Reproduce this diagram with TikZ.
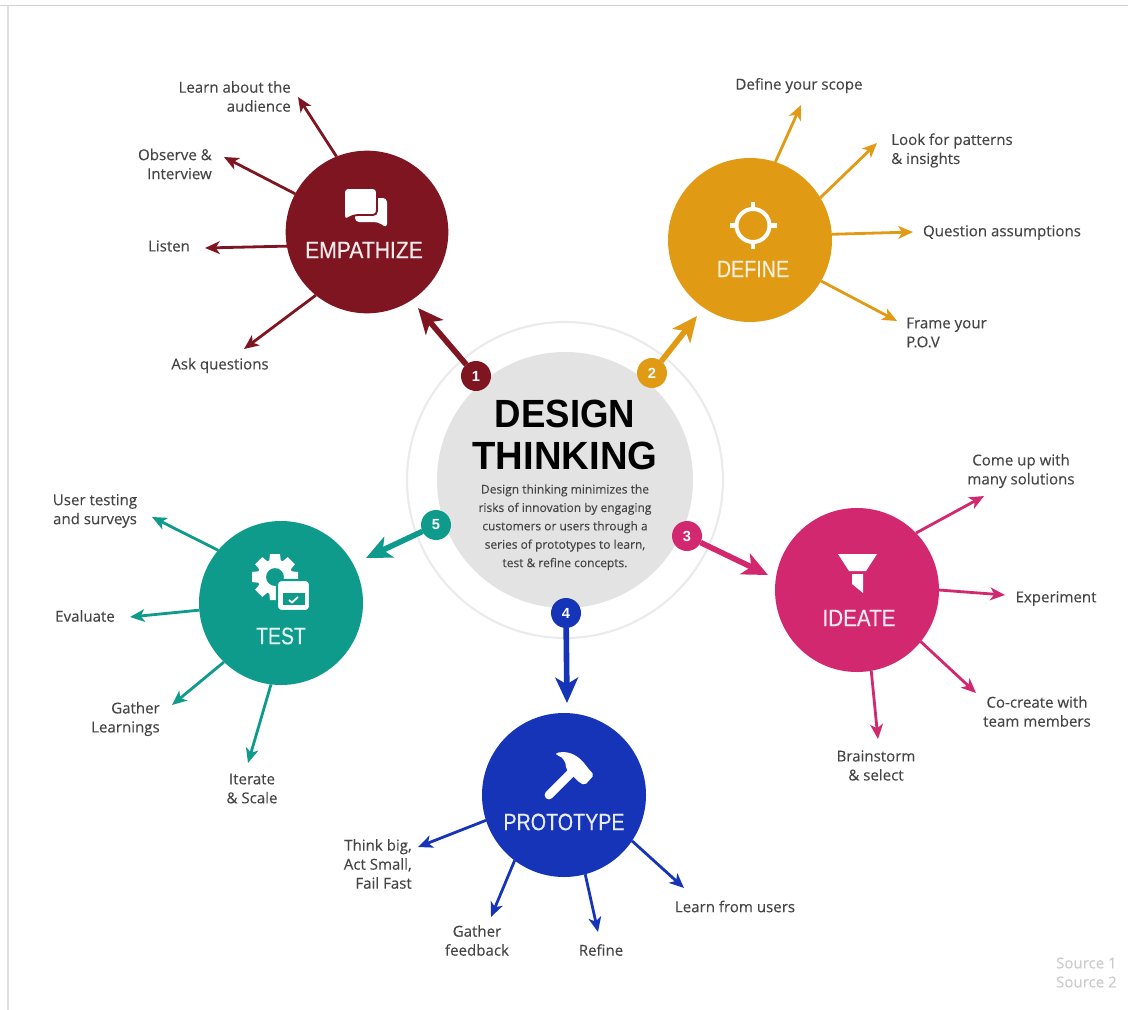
\documentclass[tikz,border=0pt]{standalone}
\usepackage{fontspec}
\usepackage{graphicx}
\usetikzlibrary{arrows.meta}
\setmainfont[FakeBold=0.12]{Open Sans}
\newfontfamily\rbf{Liberation Sans}
\newfontfamily\rbm[FakeBold=0.5]{Liberation Sans}
\definecolor{cemp}{HTML}{7F1520}
\definecolor{cdef}{HTML}{E09A14}
\definecolor{cide}{HTML}{D2286F}
\definecolor{cpro}{HTML}{1534B8}
\definecolor{ctes}{HTML}{0E9B8B}
\definecolor{ctxt}{HTML}{454545}
\newcommand{\ctitle}[2]{\scalebox{#1}[1]{#2}}
\tikzset{
  x=0.75pt,y=-0.75pt,
  hub/.style={circle,minimum size=123pt,inner sep=0pt,outer sep=0pt},
  badge/.style={circle,minimum size=22.5pt,inner sep=0pt,outer sep=0pt,text=white,font=\rbf\bfseries\fontsize{11}{11}\selectfont},
  hubtitle/.style={inner sep=0pt,font=\rbm\fontsize{17.8}{18}\selectfont},
  lab/.style={inner sep=0pt,text=ctxt,font=\fontsize{11.3}{14.25}\selectfont},
  spoke/.style={line width=2.1pt,-{Stealth[length=11pt,width=9.5pt,inset=3pt]}},
  bigarrow/.style={line width=4.2pt,-{Stealth[length=19pt,width=17pt,inset=5pt]}}
}
\begin{document}
\begin{tikzpicture}
\useasboundingbox (0,0) rectangle (1128,1010);
\fill[white] (0,0) rectangle (1128,1010);
\draw[line width=1.2pt,black!18] (0,5.5) -- (1128,5.5);
\draw[line width=0.9pt,black!12] (8,6) -- (8,1010);

% centre
\node[circle,draw=black!8,line width=1.6pt,minimum size=237pt,inner sep=0pt] (ring) at (565,480) {};
\node[circle,fill=black!11,minimum size=192pt,inner sep=0pt] (core) at (565,480) {};
\node[inner sep=0pt,font=\rbf\bfseries\fontsize{29.5}{30}\selectfont,text=black] (t1) at (565,414) {\ctitle{0.93}{DESIGN}};
\node[inner sep=0pt,font=\rbf\bfseries\fontsize{29.5}{30}\selectfont,text=black] (t2) at (565,456) {\ctitle{0.972}{THINKING}};
\node[lab,align=center,font=\fontsize{9}{13.8}\selectfont] (desc) at (565,527.2) {Design thinking minimizes the\\risks of innovation by engaging\\customers or users through a\\series of prototypes to learn,\\test \& refine concepts.};

% hubs
\node[hub,fill=cemp,minimum size=122pt] (emp) at (367,232) {};
\node[hub,fill=cdef] (def) at (750,240) {};
\node[hub,fill=cide] (ide) at (857,590) {};
\node[hub,fill=cpro] (pro) at (564,795) {};
\node[hub,fill=ctes] (tes) at (281,603) {};

\node[hubtitle,text=white!92!cemp] (emptitle) at (364,250) {\ctitle{0.89}{EMPATHIZE}};
\node[hubtitle,text=white!85!cdef] (deftitle) at (753,269) {\ctitle{0.83}{DEFINE}};
\node[hubtitle,text=white!90!cide] (idetitle) at (859,618) {\ctitle{0.87}{IDEATE}};
\node[hubtitle,text=white!90!cpro] (protitle) at (564,822) {\ctitle{0.83}{PROTOTYPE}};
\node[hubtitle,text=white!88!ctes] (testitle) at (281,636) {\ctitle{0.82}{TEST}};

% badges
\node[badge,fill=cemp] (b1) at (476,376) {1};
\node[badge,fill=cdef] (b2) at (652,373) {2};
\node[badge,fill=cide] (b3) at (687,536) {3};
\node[badge,fill=cpro] (b4) at (566,613) {4};
\node[badge,fill=ctes] (b5) at (436,525) {5};

\coordinate (a1) at (418,308);
\coordinate (a2) at (697,316);
\coordinate (a3) at (768,575);
\coordinate (a4) at (567,703);
\coordinate (a5) at (366,558);
\draw[bigarrow,cemp] (b1) -- (a1);
\draw[bigarrow,cdef] (b2) -- (a2);
\draw[bigarrow,cide] (b3) -- (a3);
\draw[bigarrow,cpro] (b4) -- (a4);
\draw[bigarrow,ctes] (b5) -- (a5);

% spokes
\foreach \ang/\x/\y in {112.5/298/97,152.8/224/157,190/205/248,231.5/244/349}
  \draw[spoke,cemp] (emp.\ang) -- (\x,\y);
\foreach \ang/\x/\y in {72.2/801/105,31.6/877/143,4.9/913/232,-30.8/897/321}
  \draw[spoke,cdef] (def.\ang) -- (\x,\y);
\foreach \ang/\x/\y in {44.5/984/496,-0.7/1005/595,-39/976/693,-80.9/878/739}
  \draw[spoke,cide] (ide.\ang) -- (\x,\y);
\foreach \ang/\x/\y in {198.2/418/847,233.4/491/917,285.4/598/932,326.5/684/888}
  \draw[spoke,cpro] (pro.\ang) -- (\x,\y);
\foreach \ang/\x/\y in {140.5/152/517,185.6/130/617,226/172/705,263/248/763}
  \draw[spoke,ctes] (tes.\ang) -- (\x,\y);

% labels
\node[lab,anchor=east,align=right] (l11) at (291,96.5) {Learn about the\\audience};
\node[lab,anchor=east,align=right] (l12) at (212,164) {Observe \&\\Interview};
\node[lab] (l13) at (169,246) {Listen};
\node[lab] (l14) at (220,365.5) {Ask questions};
\node[lab] (l21) at (799,85.6) {Define your scope};
\node[lab,anchor=west,align=left] (l22) at (891,150.5) {Look for patterns\\\& insights};
\node[lab] (l23) at (1002,232.6) {Question assumptions};
\node[lab,anchor=west,align=left] (l24) at (906,332.5) {Frame your\\P.O.V};
\node[lab,align=center] (l31) at (1021,471) {Come up with\\many solutions};
\node[lab] (l32) at (1056,598.6) {Experiment};
\node[lab,align=center] (l33) at (1037,711.5) {Co-create with\\team members};
\node[lab,align=center] (l34) at (876,765.5) {Brainstorm\\\& select};
\node[lab] (l41) at (735,906.5) {Learn from users};
\node[lab] (l42) at (601,950) {Refine};
\node[lab,align=center] (l43) at (477,940.5) {Gather\\feedback};
\node[lab,anchor=east,align=right] (l44) at (412,864) {Think big,\\Act Small,\\Fail Fast};
\node[lab,align=center] (l51) at (252,788.5) {Iterate\\\& Scale};
\node[lab,anchor=east,align=right] (l52) at (160,719) {Gather\\Learnings};
\node[lab] (l53) at (85,616) {Evaluate};
\node[lab,align=center] (l54) at (95,511) {User testing\\and surveys};
\node[lab,anchor=east,align=left,text=black!20,font=\fontsize{11.3}{14.25}\selectfont] (src) at (1117,972.5) {Source 1\\Source 2};

% icon: chat bubbles
\fill[white] (361,198) [rounded corners=3pt] -- (387,198) -- (387,228) -- (378,222) -- (355,222) -- (355,198) -- cycle;
\filldraw[fill=white,draw=cemp,line width=1.4pt,rounded corners=3pt] (344,188) -- (377,188) -- (377,215) -- (354,215) -- (345,220) -- (344,220) -- cycle;

% icon: target
\draw[white,line width=3pt] (753,225.5) circle (16.5);
\draw[white,line width=3.6pt] (729.5,225.5) -- (738,225.5) (776.5,225.5) -- (768,225.5) (753,202) -- (753,210.5) (753,249) -- (753,240.5);

% icon: funnel
\fill[white] (838,554) -- (877,554) -- (866,571) -- (849,571) -- cycle;
\fill[white] (852,574) -- (863,574) -- (863,593) -- (852,584) -- cycle;

% icon: hammer
\draw[white,line width=6.6pt,line cap=round] (549,795) -- (573,771);
\fill[white,rounded corners=1.5pt] (556,753) .. controls (570,750) and (580,757) .. (587,767) -- (594,775) -- (585,785) -- (580,783) -- (566,769) .. controls (566,762) and (563,757) .. (556,755) -- cycle;

% icon: gear and window
\begin{scope}[shift={(275,577)}]
  \foreach \r in {0,45,...,315}
    \fill[white,rotate=\r] (-5,-23) -- (5,-23) -- (6,-14) -- (-6,-14) -- cycle;
  \fill[white,even odd rule] (0,0) circle (17.5) (0,0) circle (9);
\end{scope}
\filldraw[fill=white,draw=ctes,line width=1.6pt,rounded corners=3pt] (277,580) rectangle (310,611);
\fill[ctes] (283,593) rectangle (305,605);
\draw[white,line width=1.3pt] (289,600) -- (292,602.5) -- (298,597);

\end{tikzpicture}
\end{document}
